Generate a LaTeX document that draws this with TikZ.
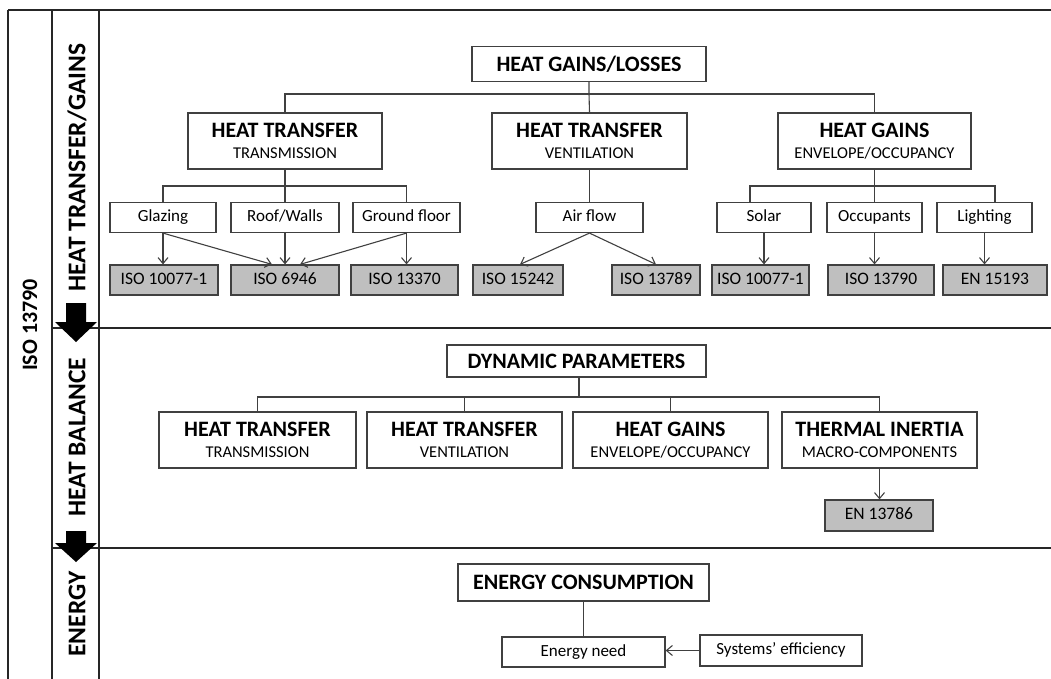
\documentclass[tikz,border=0pt]{standalone}
\usepackage{fontspec}
\setmainfont{Carlito}
\usetikzlibrary{arrows.meta,calc}

\definecolor{edge}{HTML}{404040}
\definecolor{stdfill}{HTML}{BFBFBF}
\definecolor{rule}{HTML}{262626}

\newcommand{\myHead}{\bfseries\fontsize{22}{21}\selectfont}

\begin{document}
\begin{tikzpicture}[
  x=1pt, y=-1pt,
  box/.style={draw=edge, line width=1.2pt, fill=white, inner sep=0pt,
              align=center, text=black},
  leaf/.style={box, minimum height=30pt, text height=11.5pt, text depth=3.5pt,
               font=\fontsize{17}{18}\selectfont},
  stdbox/.style={box, fill=stdfill, minimum height=30pt, text height=11.5pt,
                 text depth=3.5pt, font=\fontsize{17.5}{18}\selectfont},
  pair/.style={box, minimum height=56pt, font=\fontsize{16.5}{21}\selectfont},
  conn/.style={draw=edge, line width=1.1pt},
  arr/.style={conn, -{Straight Barb[length=6pt,width=10pt,line width=1.1pt]}},
  frame/.style={draw=rule, line width=1.2pt},
  side/.style={rotate=90, text=black, font=\bfseries\fontsize{25.5}{26}\selectfont},
  bigarrow/.style={fill=black}
]
\useasboundingbox (0,0) rectangle (1051,679);

% ---------- frame and section rules ----------
\draw[frame] (8,10) -- (1051,10);
\draw[frame] (8,10) -- (8,679);
\draw[frame] (52,10) -- (52,679);
\draw[frame] (99,10) -- (99,679);
\draw[frame] (52,328) -- (1051,328);
\draw[frame] (52,548) -- (1051,548);

% ---------- side labels ----------
\node[side, font=\bfseries\fontsize{22}{24}\selectfont] (iso) at (30,325) {ISO 13790};
\node[side] (sec1) at (77,167.5) {HEAT TRANSFER/GAINS};
\node[side] (sec2) at (77,437) {HEAT BALANCE};
\node[side] (sec3) at (77,614) {ENERGY};

% ---------- flow arrows between sections ----------
\path[bigarrow] (66,303) -- (86,303) -- (86,322) -- (97,322) -- (76,342)
  -- (55,322) -- (66,322) -- cycle;
\path[bigarrow] (66,531) -- (86,531) -- (86,543) -- (97,543) -- (76,562)
  -- (55,543) -- (66,543) -- cycle;

% ================= HEAT TRANSFER / GAINS =================
\node[box, minimum width=234pt, minimum height=35pt, font=\myHead] (hgl)
  at (589,64) {HEAT GAINS/LOSSES};

\node[pair, minimum width=194pt] (htt) at (285,141)
  {{\myHead HEAT TRANSFER}\\TRANSMISSION};
\node[pair, minimum width=195pt] (htv) at (589.5,141)
  {{\myHead HEAT TRANSFER}\\VENTILATION};
\node[pair, minimum width=193pt] (hge) at (874.5,141)
  {{\myHead HEAT GAINS}\\ENVELOPE/OCCUPANCY};

\coordinate (busA) at (0,94);
\draw[conn] (htt.north) -- (htt.north |- busA) -- (hge.north |- busA) -- (hge.north);
\draw[conn] (hgl.south) -- (hgl.south |- busA) -- (htv.north);

% sub-items
\node[leaf, minimum width=106pt] (glaz) at (163,217.5) {Glazing};
\node[leaf, minimum width=108pt] (roof) at (285,217.5) {Roof/Walls};
\node[leaf, minimum width=107pt] (grnd) at (406.5,217.5) {Ground floor};
\node[leaf, minimum width=107pt] (air) at (589.5,217.5) {Air flow};
\node[leaf, minimum width=94pt] (solar) at (764,217.5) {Solar};
\node[leaf, minimum width=95pt] (occ) at (874.5,217.5) {Occupants};
\node[leaf, minimum width=95pt] (light) at (984.5,217.5) {Lighting};

\coordinate (busB) at (0,186);
\draw[conn] (glaz.north) -- (glaz.north |- busB) -- (grnd.north |- busB) -- (grnd.north);
\draw[conn] (htt.south) -- (roof.north);
\draw[conn] (htv.south) -- (air.north);
\draw[conn] ($(solar.north)+(-14,0)$) -- ($(solar.north |- busB)+(-14,0)$)
  -- ($(light.north |- busB)+(10.5,0)$) -- ($(light.north)+(10.5,0)$);
\draw[conn] (hge.south) -- (occ.north);

% standards
\node[stdbox, minimum width=108pt] (s10077a) at (164,280) {ISO 10077-1};
\node[stdbox, minimum width=108pt] (s6946) at (285,280) {ISO 6946};
\node[stdbox, minimum width=107pt] (s13370) at (404.5,280) {ISO 13370};
\node[stdbox, minimum width=90pt] (s15242) at (518,280) {ISO 15242};
\node[stdbox, minimum width=88pt] (s13789) at (656,280) {ISO 13789};
\node[stdbox, minimum width=97pt] (s10077b) at (760.5,280) {ISO 10077-1};
\node[stdbox, minimum width=106pt] (s13790) at (881,280) {ISO 13790};
\node[stdbox, minimum width=104pt] (s15193) at (995,280) {EN 15193};

\draw[arr] (glaz.south) -- (glaz.south |- s10077a.north);
\draw[arr] (glaz.south) -- ($(s6946.north)+(-13,0)$);
\draw[arr] (roof.south) -- (s6946.north);
\draw[arr] (grnd.south) -- ($(s6946.north)+(15,0)$);
\draw[arr] (grnd.south) -- (grnd.south |- s13370.north);
\draw[arr] (air.south) -- ($(s15242.north)+(2,0)$);
\draw[arr] (air.south) -- (s13789.north);
\draw[arr] (solar.south) -- (solar.south |- s10077b.north);
\draw[arr] (occ.south) -- (occ.south |- s13790.north);
\draw[arr] (light.south) -- (light.south |- s15193.north);

% ================= HEAT BALANCE =================
\node[box, minimum width=259pt, minimum height=32pt, font=\myHead] (dyn)
  at (576.5,361) {DYNAMIC PARAMETERS};

\node[pair, minimum width=197pt] (dtt) at (257.5,440)
  {{\myHead HEAT TRANSFER}\\TRANSMISSION};
\node[pair, minimum width=195pt] (dtv) at (464.5,440)
  {{\myHead HEAT TRANSFER}\\VENTILATION};
\node[pair, minimum width=195pt] (dge) at (670.5,440)
  {{\myHead HEAT GAINS}\\ENVELOPE/OCCUPANCY};
\node[pair, minimum width=195pt] (dti) at (879.5,440)
  {{\myHead THERMAL INERTIA}\\MACRO-COMPONENTS};

\coordinate (busC) at (0,397);
\draw[conn] (dtt.north) -- (dtt.north |- busC) -- (dti.north |- busC) -- (dti.north);
\draw[conn] (dtv.north) -- (dtv.north |- busC);
\draw[conn] (dge.north) -- (dge.north |- busC);
\draw[conn] ($(dyn.south)+(2.5,0)$) -- ($(dyn.south |- busC)+(2.5,0)$);

\node[stdbox, minimum width=108pt, minimum height=31pt] (s13786) at (879,515.5) {EN 13786};
\draw[arr] (dti.south) -- (dti.south |- s13786.north);

% ================= ENERGY =================
\node[box, minimum width=251pt, minimum height=37pt, font=\myHead] (ec)
  at (583.5,582.5) {ENERGY CONSUMPTION};
\node[leaf, minimum width=163pt] (need) at (583.5,652) {Energy need};
\node[leaf, minimum width=162pt, minimum height=31pt] (sys) at (781,650.5) {Systems’ efficiency};

\draw[conn] (ec.south) -- (need.north);
\draw[arr] (sys.west) -- (sys.west -| need.east);

\end{tikzpicture}
\end{document}
